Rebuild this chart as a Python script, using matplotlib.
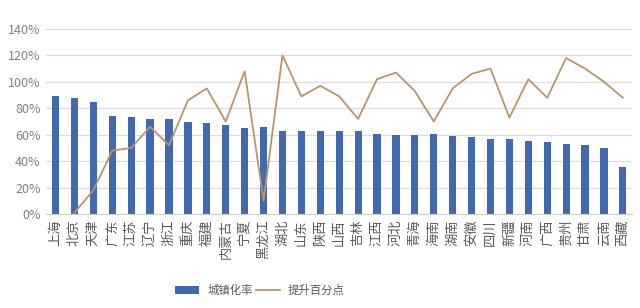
import matplotlib.pyplot as plt
import numpy as np

plt.rcParams['font.family'] = ['Noto Sans CJK SC', 'DejaVu Sans']

provinces = ['上海', '北京', '天津', '广东', '江苏', '辽宁', '浙江', '重庆', '福建', '内蒙古',
             '宁夏', '黑龙江', '湖北', '山东', '陕西', '山西', '吉林', '江西', '河北', '青海',
             '海南', '湖南', '安徽', '四川', '新疆', '河南', '广西', '贵州', '甘肃', '云南', '西藏']

urban_rate = [89.3, 87.5, 84.7, 74.2, 73.4, 72.1, 72.2, 69.5, 68.8, 67.5,
              65.0, 65.6, 62.9, 63.1, 62.7, 62.5, 62.6, 60.4, 60.1, 60.1,
              60.3, 58.8, 58.3, 56.7, 56.5, 55.4, 54.2, 53.2, 52.2, 50.1, 35.7]

increase = [np.nan, 1, 18, 48, 50, 66, 52, 86, 95, 70,
            108, 10, 120, 89, 97, 89, 72, 102, 107, 93,
            70, 95, 106, 110, 73, 102, 88, 118, 110, 100, 88]

fig = plt.figure(figsize=(6.4, 3.08), dpi=100)
ax = fig.add_axes([0.072, 0.305, 0.916, 0.601])

x = np.arange(len(provinces))
bars = ax.bar(x, urban_rate, width=0.38, color='#4169B0', label='城镇化率', zorder=2)
line, = ax.plot(x, increase, color='#B8956A', linewidth=1.3, label='提升百分点', zorder=3)

ax.set_xlim(-0.5, len(provinces) - 0.5)
ax.set_ylim(0, 140)
ax.set_yticks(range(0, 141, 20))
ax.set_yticklabels([f'{v}%' for v in range(0, 141, 20)], fontsize=9, color='#808080')
ax.set_xticks(x)
ax.set_xticklabels(provinces, rotation=90, fontsize=9.5, color='#595959')
ax.tick_params(length=0, pad=4)
ax.grid(axis='y', color='#DCDCDC', linewidth=0.9, zorder=0)

for s in ['top', 'right', 'left']:
    ax.spines[s].set_visible(False)
ax.spines['bottom'].set_color('#D0D0D0')

fig.legend([bars, line], ['城镇化率', '提升百分点'], loc='center',
           bbox_to_anchor=(260 / 640, 1 - 290 / 308), ncol=2,
           frameon=False, fontsize=8.2, handlelength=2.1, handleheight=0.7,
           columnspacing=0.3, handletextpad=0.7, labelcolor='#595959')

fig.savefig('out.png', dpi=100, facecolor='white')
